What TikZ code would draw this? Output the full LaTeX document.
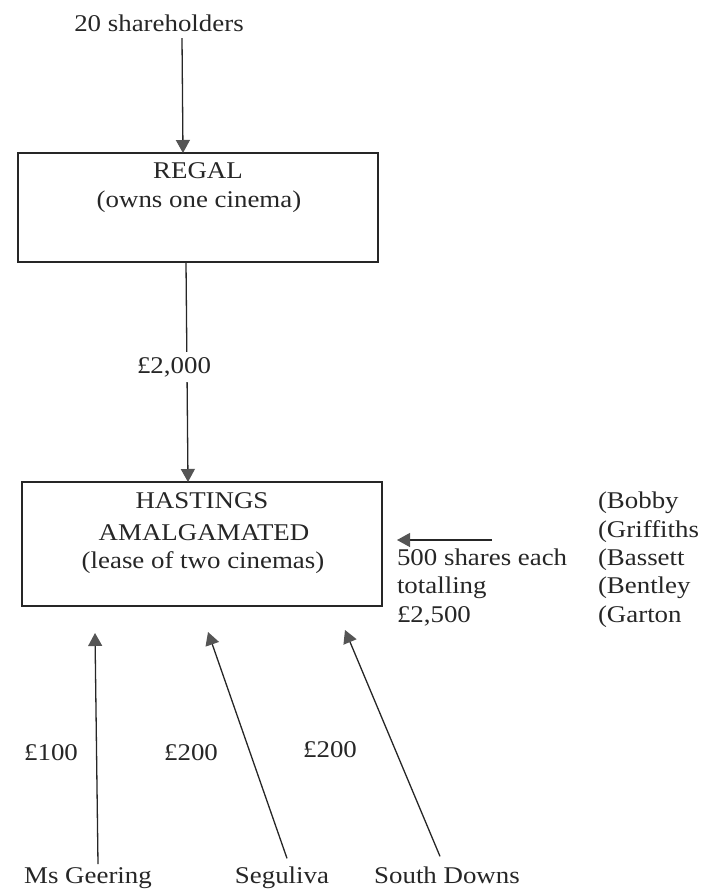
\documentclass[tikz,border=0pt]{standalone}
\usepackage{fontspec}
\setmainfont{Liberation Serif}[FakeStretch=1.12]
\usetikzlibrary{arrows.meta}
\definecolor{ink}{HTML}{262626}
\definecolor{headgray}{HTML}{555555}
\begin{document}
\begin{tikzpicture}[x=1pt,y=-1pt,
  every node/.style={font=\fontsize{24}{28}\selectfont, text=ink, inner sep=0pt, outer sep=0pt},
  lbl/.style={anchor=base},
  lblw/.style={anchor=base west},
  boxnode/.style={draw=ink, line width=1.3pt, rectangle},
  arr/.style={draw=ink, line width=1.3pt, -{Triangle[length=13pt,width=14pt,color=headgray]}}
]
\useasboundingbox (0,0) rectangle (710,891);

% top
\node[lbl] (sh) at (159,32) {20 shareholders};
\node[boxnode, minimum width=360pt, minimum height=109pt] (regal) at (198,207.5) {};
\node[lbl] (regal1) at (198,178) {REGAL};
\node[lbl] (regal2) at (199,207) {(owns one cinema)};
\draw[arr] ([xshift=23pt,yshift=-6pt]sh.south) -- ([xshift=-15pt]regal.north);

% Hastings
\node[boxnode, minimum width=360pt, minimum height=124pt] (hast) at (202,544) {};
\node[lbl] (hast1) at (202,508) {HASTINGS};
\node[lbl] (hast2) at (204,540) {AMALGAMATED};
\node[lbl] (hast3) at (203,568) {(lease of two cinemas)};
\draw[arr] ([xshift=-12pt]regal.south) -- ([xshift=-14pt]hast.north);
\node[lbl, fill=white, inner xsep=1pt, inner ysep=5pt] (amt) at (174,373) {£2,000};

% right side
\coordinate (a0) at (492,540);
\coordinate (a1) at (397,540);
\draw[arr] (a0) -- (a1);
\node[lblw] (sh1) at (397,565) {500 shares each};
\node[lblw] (sh2) at (397,593) {totalling};
\node[lblw] (sh3) at (397,622) {£2,500};
\node[lblw] (n1) at (598,508) {(Bobby};
\node[lblw] (n2) at (598,537) {(Griffiths};
\node[lblw] (n3) at (598,565) {(Bassett};
\node[lblw] (n4) at (598,593) {(Bentley};
\node[lblw] (n5) at (598,622) {(Garton};

% bottom
\node[lbl] (geer) at (88,883) {Ms Geering};
\node[lbl] (segu) at (282,883) {Seguliva};
\node[lbl] (sdown) at (447,883) {South Downs};
\coordinate (t1) at (95,633);
\coordinate (t2) at (208,632);
\coordinate (t3) at (345,630);
\draw[arr] ([xshift=10pt,yshift=3pt]geer.north) -- (t1);
\draw[arr] ([xshift=5pt,yshift=8pt]segu.north) -- (t2);
\draw[arr] ([xshift=-7pt,yshift=10pt]sdown.north) -- (t3);
\node[lbl] (p1) at (51,760) {£100};
\node[lbl] (p2) at (191,760) {£200};
\node[lbl] (p3) at (330,757) {£200};
\end{tikzpicture}
\end{document}
